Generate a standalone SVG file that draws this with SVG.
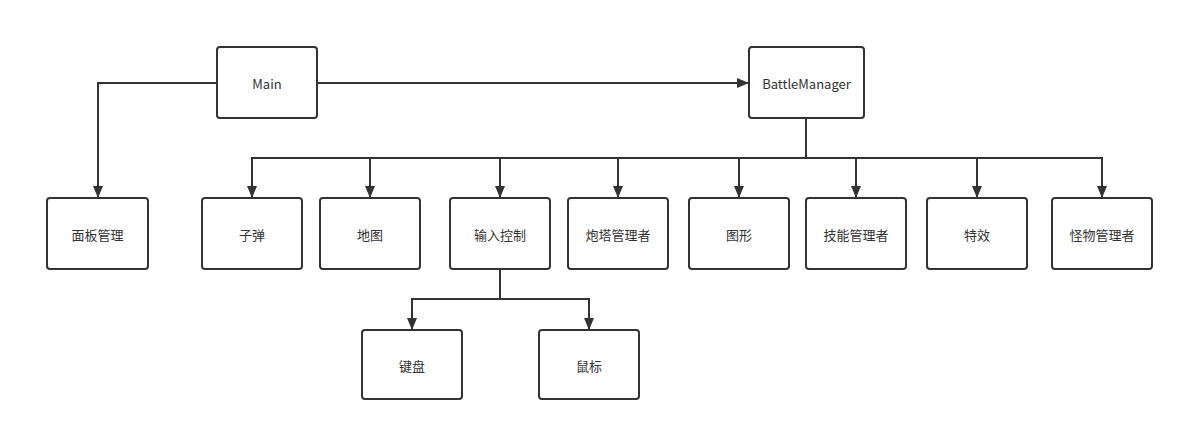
<svg xmlns="http://www.w3.org/2000/svg" width="1184" height="432" viewBox="0 0 1184 432">
<style>
.box{fill:#fff;stroke:#333;stroke-width:2}
.lbl{font-family:"Noto Sans CJK SC","Noto Sans",sans-serif;font-size:13px;fill:#333;text-anchor:middle;dominant-baseline:central}
.ln{fill:none;stroke:#333;stroke-width:2}
</style>
<defs>
<marker id="ah" viewBox="0 0 12 10" refX="12" refY="5" markerWidth="12" markerHeight="10" markerUnits="userSpaceOnUse" orient="auto">
<path d="M0,0 L12,5 L0,10 Z" fill="#333"/>
</marker>
</defs>
<rect width="1184" height="432" fill="#fff"/>
<g id="connectors">
<path class="ln" d="M217,83 H98 V198" marker-end="url(#ah)"/>
<path class="ln" d="M317,83 H749" marker-end="url(#ah)"/>
<path class="ln" d="M806,118 V158" stroke-width="3"/>
<path class="ln" d="M806,158 H252 V198" marker-end="url(#ah)"/>
<path class="ln" d="M370,158 V198" marker-end="url(#ah)"/>
<path class="ln" d="M500,158 V198" marker-end="url(#ah)"/>
<path class="ln" d="M618,158 V198" marker-end="url(#ah)"/>
<path class="ln" d="M739,158 V198" marker-end="url(#ah)"/>
<path class="ln" d="M806,158 H1102 V198" marker-end="url(#ah)"/>
<path class="ln" d="M856,158 V198" marker-end="url(#ah)"/>
<path class="ln" d="M977,158 V198" marker-end="url(#ah)"/>
<path class="ln" d="M500,269 V299 H412 V330" marker-end="url(#ah)"/>
<path class="ln" d="M500,299 H589 V330" marker-end="url(#ah)"/>
</g>
<g id="main"><rect class="box" x="217" y="47" width="100" height="71" rx="3"/><text class="lbl" x="267" y="83">Main</text></g>
<g id="battlemanager"><rect class="box" x="749" y="47" width="115" height="71" rx="3"/><text class="lbl" x="806.5" y="83">BattleManager</text></g>
<g id="panel"><rect class="box" x="47" y="198" width="101" height="71" rx="3"/><text class="lbl" x="97.5" y="234">面板管理</text></g>
<g id="bullet"><rect class="box" x="202" y="198" width="100" height="71" rx="3"/><text class="lbl" x="252" y="234">子弹</text></g>
<g id="map"><rect class="box" x="320" y="198" width="100" height="71" rx="3"/><text class="lbl" x="370" y="234">地图</text></g>
<g id="input"><rect class="box" x="450" y="198" width="100" height="71" rx="3"/><text class="lbl" x="500" y="234">输入控制</text></g>
<g id="tower"><rect class="box" x="568" y="198" width="100" height="71" rx="3"/><text class="lbl" x="618" y="234">炮塔管理者</text></g>
<g id="graphics"><rect class="box" x="689" y="198" width="100" height="71" rx="3"/><text class="lbl" x="739" y="234">图形</text></g>
<g id="skill"><rect class="box" x="806" y="198" width="100" height="71" rx="3"/><text class="lbl" x="856" y="234">技能管理者</text></g>
<g id="effect"><rect class="box" x="927" y="198" width="100" height="71" rx="3"/><text class="lbl" x="977" y="234">特效</text></g>
<g id="monster"><rect class="box" x="1052" y="198" width="100" height="71" rx="3"/><text class="lbl" x="1102" y="234">怪物管理者</text></g>
<g id="keyboard"><rect class="box" x="362" y="330" width="100" height="69" rx="3"/><text class="lbl" x="412" y="365">键盘</text></g>
<g id="mouse"><rect class="box" x="539" y="330" width="100" height="69" rx="3"/><text class="lbl" x="589" y="365">鼠标</text></g>
</svg>
